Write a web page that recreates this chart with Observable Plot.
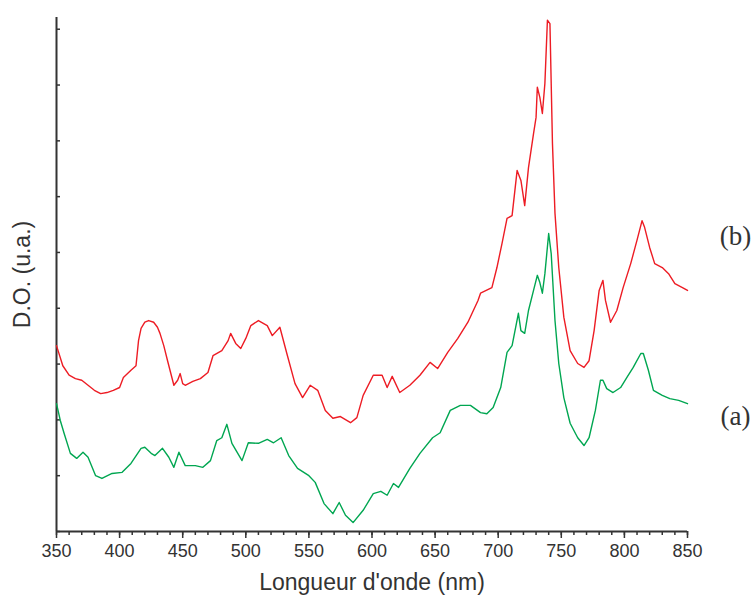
<!DOCTYPE html>
<html>
<head>
<meta charset="utf-8">
<script src="https://cdn.jsdelivr.net/npm/d3@7"></script>
<script src="https://cdn.jsdelivr.net/npm/@observablehq/plot@0.6"></script>
<style>
  html, body { margin: 0; padding: 0; background: #fff; }
</style>
</head>
<body>
<div id="chart"></div>
<script>
// Wavelengths (nm) and optical density (arbitrary units) — spectrum (b), red
const wavelengthsB = [350,355,360,365,370,375,380,385,390,395,400,403,409,413,415,417,420,423,427,430,432,435,438,443,446,448,450,452,458,464,470,474,481,486,488,492,496,500,504,510,517,521,527,533,539,545,551,557,563,569,575,583,588,593,601,608,612,616,622,630,638,646,652,660,668,676,684,686,695,699,703,707,711,715,718,721,724,728,730,731,733,735,737,739,741,743,745,748,752,757,763,768,772,776,780,783,785,789,794,799,805,810,814,816,820,824,830,835,840,846,850];
const valuesB = [3.33,2.97,2.80,2.74,2.71,2.62,2.53,2.47,2.49,2.53,2.58,2.76,2.89,2.97,3.42,3.64,3.75,3.78,3.75,3.66,3.55,3.33,3.06,2.62,2.71,2.83,2.65,2.62,2.69,2.74,2.85,3.15,3.24,3.42,3.55,3.37,3.28,3.46,3.69,3.78,3.69,3.51,3.66,3.15,2.65,2.40,2.62,2.53,2.17,2.03,2.06,1.95,2.04,2.44,2.80,2.80,2.58,2.78,2.49,2.62,2.80,3.03,2.92,3.21,3.46,3.75,4.14,4.27,4.37,4.73,5.16,5.61,5.66,6.47,6.29,5.84,6.52,7.13,7.42,7.96,7.78,7.49,8.03,9.16,9.10,6.95,5.70,4.73,3.84,3.24,3.01,2.94,3.06,3.60,4.32,4.50,4.14,3.75,3.96,4.37,4.80,5.22,5.57,5.45,5.09,4.80,4.73,4.62,4.44,4.37,4.32];

// Spectrum (a), green
const wavelengthsA = [350,353,356,361,366,371,375,381,386,394,402,409,417,420,425,428,434,439,443,447,452,460,466,472,477,481,485,489,497,502,510,517,522,528,534,541,550,555,562,569,574,579,585,593,601,607,612,617,621,630,638,648,654,662,670,678,686,691,696,702,707,711,716,718,721,724,728,731,733,735,737,740,742,745,748,752,757,763,768,772,777,781,783,786,791,797,802,807,813,815,819,823,830,836,843,850];
const valuesA = [2.29,1.99,1.76,1.40,1.31,1.42,1.33,1.00,0.95,1.04,1.06,1.22,1.49,1.51,1.40,1.36,1.49,1.33,1.15,1.42,1.18,1.18,1.15,1.27,1.63,1.68,1.92,1.58,1.27,1.59,1.58,1.65,1.59,1.68,1.36,1.13,1.00,0.88,0.50,0.32,0.52,0.29,0.16,0.38,0.68,0.72,0.65,0.86,0.79,1.13,1.40,1.68,1.77,2.17,2.26,2.26,2.13,2.11,2.22,2.58,3.21,3.33,3.91,3.60,3.55,3.96,4.32,4.59,4.46,4.27,4.62,5.34,4.98,3.78,3.01,2.40,1.94,1.68,1.54,1.68,2.17,2.71,2.71,2.56,2.49,2.58,2.76,2.94,3.19,3.19,2.89,2.53,2.44,2.38,2.35,2.29];

// Axis ticks
const xMajorTicks = [350,400,450,500,550,600,650,700,750,800,850];
const xMinorTicks = d3.range(350, 851, 10);
const yTicks = [0,1,2,3,4,5,6,7,8,9];

// Series labels
const seriesLabels = ["(b)", "(a)"];
const seriesLabelY = [5.29, 2.06];

const RED = "#ed1c24";
const GREEN = "#00a651";
const INK = "#333333";

const tableB = wavelengthsB.map((x, i) => ({nm: x, od: valuesB[i]}));
const tableA = wavelengthsA.map((x, i) => ({nm: x, od: valuesA[i]}));
const labelTable = seriesLabels.map((t, i) => ({t, y: seriesLabelY[i]}));

const chart = Plot.plot({
  width: 755,
  height: 603,
  marginTop: 17,
  marginBottom: 72,
  marginLeft: 56,
  marginRight: 68,
  x: {domain: [350, 850]},
  y: {domain: [0, 9.21]},
  style: {fontFamily: "'Liberation Sans', Arial, sans-serif", fontSize: "18px", color: INK, background: "#fff"},
  marks: [
    Plot.axisX({ticks: xMinorTicks, tickSize: 4, tickFormat: () => "", label: null, stroke: INK, strokeWidth: 1.5}),
    Plot.axisX({ticks: xMajorTicks, tickSize: 7, tickPadding: 6, tickFormat: d => String(d), label: null, stroke: INK, strokeWidth: 1.5, fill: INK}),
    Plot.axisY({ticks: yTicks, tickSize: -4, tickFormat: () => "", label: null, stroke: INK, strokeWidth: 1.5}),
    Plot.ruleX([350], {stroke: INK, strokeWidth: 2}),
    Plot.ruleY([0], {stroke: INK, strokeWidth: 2}),
    Plot.line(tableA, {x: "nm", y: "od", stroke: GREEN, strokeWidth: 1.4}),
    Plot.line(tableB, {x: "nm", y: "od", stroke: RED, strokeWidth: 1.4}),
    Plot.text(["Longueur d'onde (nm)"], {frameAnchor: "bottom", dy: 58, fontSize: 23, fill: INK, textAnchor: "middle"}),
    Plot.text(["D.O. (u.a.)"], {frameAnchor: "left", rotate: -90, dx: -34, fontSize: 23, fill: INK, textAnchor: "middle"}),
    Plot.text(labelTable, {x: 850, y: "y", text: "t", dx: 48, fontSize: 27, fontFamily: "'Liberation Serif', 'Times New Roman', serif", fill: INK})
  ]
});
document.getElementById("chart").appendChild(chart);
</script>
</body>
</html>
